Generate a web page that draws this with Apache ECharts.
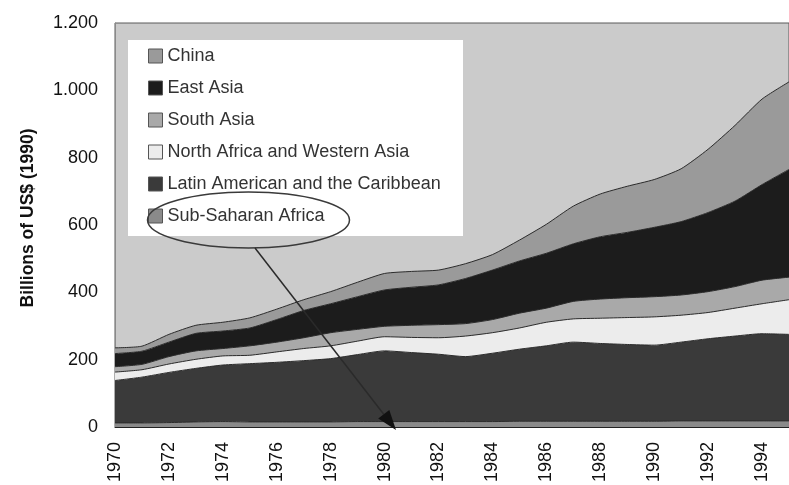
<!DOCTYPE html>
<html>
<head>
<meta charset="utf-8">
<script src="https://cdn.jsdelivr.net/npm/echarts@6/dist/echarts.min.js"></script>
<style>
  html, body { margin: 0; padding: 0; background: #ffffff; }
  #chart { width: 789px; height: 485px; }
</style>
</head>
<body>
<div id="chart"></div>
<script>
// Years on the horizontal axis
const years = ['1970','1971','1972','1973','1974','1975','1976','1977','1978','1979',
               '1980','1981','1982','1983','1984','1985','1986','1987','1988','1989',
               '1990','1991','1992','1993','1994','1995'];

// Regional values, billions of US$ (1990), stacked bottom to top
const subSaharanAfrica = [12, 12, 13, 15, 16, 15, 15, 15, 15, 16, 16, 16, 16, 16, 16, 17, 17, 17, 17, 17, 17, 18, 18, 18, 18, 18];
const latinAmerica     = [126, 136, 149, 159, 168, 173, 177, 182, 188, 199, 210, 205, 200, 193, 203, 214, 224, 235, 231, 228, 226, 234, 244, 252, 259, 257];
const northAfricaWAsia = [25, 22, 25, 27, 27, 25, 31, 36, 38, 40, 42, 45, 49, 61, 61, 63, 70, 69, 75, 80, 84, 80, 78, 83, 89, 103];
const southAsia        = [16, 16, 22, 25, 22, 28, 29, 32, 39, 35, 31, 36, 39, 37, 39, 44, 42, 52, 57, 59, 60, 60, 62, 64, 70, 67];
const eastAsia         = [39, 39, 43, 52, 52, 53, 67, 81, 86, 97, 108, 113, 118, 134, 147, 155, 163, 171, 185, 194, 206, 218, 235, 254, 284, 320];
const china            = [17, 15, 23, 24, 26, 30, 31, 32, 36, 43, 49, 47, 44, 44, 46, 62, 86, 112, 127, 137, 142, 157, 188, 225, 254, 260];

// Region names in stacking order (bottom first)
const regionNames = ['Sub-Saharan Africa', 'Latin American and the Caribbean',
                     'North Africa and Western Asia', 'South Asia', 'East Asia', 'China'];
const regionValues = [subSaharanAfrica, latinAmerica, northAfricaWAsia, southAsia, eastAsia, china];
const regionFills = ['#8a8a8a', '#3a3a3a', '#ececec', '#a9a9a9', '#1c1c1c', '#9a9a9a'];

// Legend lists the regions top of stack first
const legendOrder = ['China', 'East Asia', 'South Asia', 'North Africa and Western Asia',
                     'Latin American and the Caribbean', 'Sub-Saharan Africa'];

// Value-axis ticks
const yMin = 0, yMax = 1200, yStep = 200;

const FONT = '"Liberation Sans", Arial, Helvetica, sans-serif';

function formatThousands(v) {
  if (v >= 1000) {
    return Math.floor(v / 1000) + '.' + String(v % 1000).padStart(3, '0');
  }
  return String(v);
}

const chart = echarts.init(document.getElementById('chart'), null, { renderer: 'canvas' });

const series = regionNames.map((name, i) => ({
  name: name,
  type: 'line',
  stack: 'total',
  data: regionValues[i],
  symbol: 'none',
  smooth: 0.2,
  lineStyle: { color: '#2b2b2b', width: 1 },
  areaStyle: { color: regionFills[i], opacity: 1 },
  emphasis: { disabled: true },
  z: 2
}));

const legendData = legendOrder.map(name => ({
  name: name,
  itemStyle: {
    color: regionFills[regionNames.indexOf(name)],
    borderColor: '#555555',
    borderWidth: 1
  }
}));

// Arrow from the circled legend entry down to the Sub-Saharan band
const arrowFrom = [255, 248];
const arrowTip = [396, 430];
const headLen = 20, headHalf = 7;
const dx = arrowTip[0] - arrowFrom[0], dy = arrowTip[1] - arrowFrom[1];
const len = Math.sqrt(dx * dx + dy * dy);
const ux = dx / len, uy = dy / len;
const baseX = arrowTip[0] - ux * headLen, baseY = arrowTip[1] - uy * headLen;

chart.setOption({
  animation: false,
  backgroundColor: '#ffffff',
  textStyle: { fontFamily: FONT },
  grid: {
    left: 115,
    top: 23,
    width: 682.5,
    bottom: 53,
    show: true,
    backgroundColor: '#cbcbcb',
    borderColor: '#5a5a5a',
    borderWidth: 1
  },
  legend: {
    orient: 'vertical',
    left: 148,
    top: 47,
    itemWidth: 14,
    itemHeight: 14,
    itemGap: 14,
    padding: 0,
    icon: 'rect',
    selectedMode: false,
    data: legendData,
    textStyle: { fontSize: 18, lineHeight: 17, color: '#333333', fontFamily: FONT },
    z: 4
  },
  xAxis: {
    type: 'category',
    data: years,
    boundaryGap: false,
    axisLine: { show: true, lineStyle: { color: '#222222', width: 1 } },
    axisTick: { show: false },
    splitLine: { show: false },
    axisLabel: {
      interval: 1,
      rotate: 90,
      margin: 15,
      fontSize: 18,
      color: '#111111',
      fontFamily: FONT
    }
  },
  yAxis: {
    type: 'value',
    min: yMin,
    max: yMax,
    interval: yStep,
    name: 'Billions of US$ (1990)',
    nameLocation: 'middle',
    nameGap: 78,
    nameTextStyle: {
      fontSize: 17.5,
      fontWeight: 'bold',
      color: '#111111',
      fontFamily: FONT,
      padding: [0, 0, 0, 14]
    },
    axisLine: { show: true, lineStyle: { color: '#8a8a8a', width: 1 } },
    axisTick: { show: false },
    splitLine: { show: false },
    axisLabel: {
      margin: 17,
      fontSize: 18,
      color: '#111111',
      fontFamily: FONT,
      formatter: formatThousands
    }
  },
  graphic: [
    {
      type: 'rect',
      z: 3,
      silent: true,
      shape: { x: 128, y: 40, width: 335, height: 196 },
      style: { fill: '#ffffff' }
    },
    {
      type: 'ellipse',
      z: 10,
      silent: true,
      shape: { cx: 248.5, cy: 220, rx: 101, ry: 28 },
      style: { fill: 'none', stroke: '#3a3a3a', lineWidth: 1.5 }
    },
    {
      type: 'line',
      z: 10,
      silent: true,
      shape: { x1: arrowFrom[0], y1: arrowFrom[1], x2: baseX, y2: baseY },
      style: { stroke: '#2a2a2a', lineWidth: 1.5 }
    },
    {
      type: 'polygon',
      z: 10,
      silent: true,
      shape: {
        points: [
          arrowTip,
          [baseX - uy * headHalf, baseY + ux * headHalf],
          [baseX + uy * headHalf, baseY - ux * headHalf]
        ]
      },
      style: { fill: '#111111' }
    }
  ],
  series: series
});
</script>
</body>
</html>
